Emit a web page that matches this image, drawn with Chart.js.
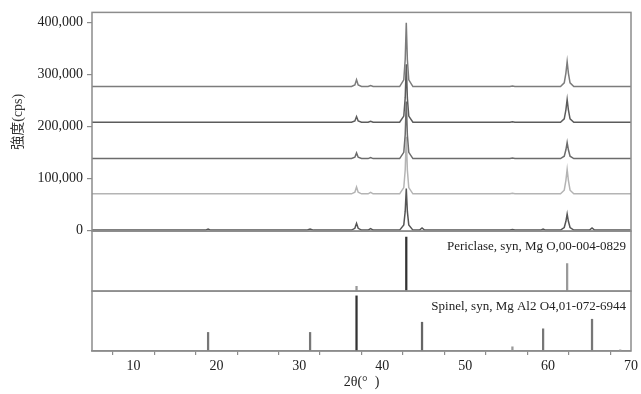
<!DOCTYPE html>
<html>
<head>
<meta charset="utf-8">
<script src="https://cdn.jsdelivr.net/npm/chart.js@4/dist/chart.umd.min.js"></script>
<style>
  body { margin: 0; background: #fff; }
</style>
</head>
<body>
<canvas id="xrd" width="641" height="394"></canvas>
<script>
// 2theta sampling points of the measured patterns
var twoTheta = [5, 18.7, 19.0, 19.3, 30.9, 31.3, 31.7, 36.3, 36.7, 36.9, 37.1, 37.5, 38.3, 38.6, 38.9,
  42.1, 42.6, 42.77, 42.9, 43.03, 43.2, 43.7, 44.5, 44.8, 45.1, 55.4, 55.7, 56.0, 59.1, 59.4, 59.7,
  61.5, 61.95, 62.15, 62.3, 62.45, 62.65, 63.1, 65.0, 65.3, 65.6, 70];

// intensities above each pattern's own baseline (cps), top pattern first
var patternA = [0, 0,0,0, 0,0,0, 0,3000,13000,3000,0, 0,2000,0, 0,13000,52000,123000,52000,13000,0, 0,0,0, 0,1000,0, 0,0,0, 0,7000,26000,48000,26000,7000,0, 0,0,0, 0];
var patternB = [0, 0,0,0, 0,0,0, 0,2500,11000,2500,0, 0,2000,0, 0,12000,47000,112000,47000,12000,0, 0,0,0, 0,1000,0, 0,0,0, 0,6500,24000,44000,24000,6500,0, 0,0,0, 0];
var patternC = [0, 0,0,0, 0,0,0, 0,2500,11000,2500,0, 0,2000,0, 0,12000,46000,110000,46000,12000,0, 0,0,0, 0,1000,0, 0,0,0, 0,4500,17000,31000,17000,4500,0, 0,0,0, 0];
var patternD = [0, 0,0,0, 0,0,0, 0,3000,13000,3000,0, 0,3000,0, 0,12000,46000,110000,46000,12000,0, 0,0,0, 0,1000,0, 0,0,0, 0,7000,26000,47000,26000,7000,0, 0,0,0, 0];
var patternE = [0, 0,2000,0, 0,2000,0, 0,3500,13000,3500,0, 0,3000,0, 0,10000,36000,80000,36000,10000,0, 0,4000,0, 0,1000,0, 0,2000,0, 0,5000,17000,31000,17000,5000,0, 0,4000,0, 0];
var patterns = [patternA, patternB, patternC, patternD, patternE];
var patternOffsets = [277000, 208000, 138000, 70000, 0];
var patternColors = ['#7c7c7c', '#5c5c5c', '#6c6c6c', '#b4b4b4', '#555555'];

// reference cards (relative intensity, %)
var periclaseLabel = 'Periclase, syn, Mg O,00-004-0829';
var periclasePos = [36.9, 42.9, 62.3];
var periclaseInt = [8, 90, 46];
var periclaseColors = ['#999', '#333', '#999'];

var spinelLabel = 'Spinel, syn, Mg Al2 O4,01-072-6944';
var spinelPos = [19.0, 31.3, 36.9, 44.8, 55.7, 59.4, 65.3, 68.7];
var spinelInt = [31, 31, 92, 48, 7, 37, 53, 2];
var spinelColors = ['#777', '#777', '#333', '#666', '#999', '#777', '#777', '#aaa'];

var yTicks = [0, 100000, 200000, 300000, 400000];
var xTicks = [5, 10, 15, 20, 25, 30, 35, 40, 45, 50, 55, 60, 65, 70];

var serif = '"Liberation Serif", "Noto Sans CJK JP", serif';
var frameColor = '#8c8c8c';

var datasets = [];
patterns.forEach(function (p, i) {
  datasets.push({
    type: 'line',
    yAxisID: 'y',
    data: p.map(function (v, j) { return {x: twoTheta[j], y: v + patternOffsets[i]}; }),
    borderColor: patternColors[i],
    borderWidth: 1.5,
    pointRadius: 0,
    tension: 0
  });
});
datasets.push({
  type: 'bar',
  yAxisID: 'y2',
  data: periclasePos.map(function (x, i) { return {x: x, y: periclaseInt[i]}; }),
  backgroundColor: periclaseColors,
  barThickness: 1.6,
  grouped: false
});
datasets.push({
  type: 'bar',
  yAxisID: 'y3',
  data: spinelPos.map(function (x, i) { return {x: x, y: spinelInt[i]}; }),
  backgroundColor: spinelColors,
  barThickness: 1.6,
  grouped: false
});

//Frames round each panel and the card names
var panelFrames = {
  id: 'panelFrames',
  afterDatasetsDraw: function (chart) {
    var ctx = chart.ctx, area = chart.chartArea;
    ctx.save();
    ctx.strokeStyle = frameColor;
    ctx.lineWidth = 1.5;
    ['y', 'y2', 'y3'].forEach(function (id) {
      var s = chart.scales[id];
      ctx.strokeRect(area.left, s.top, area.right - area.left, s.bottom - s.top);
    });
    ctx.fillStyle = '#222';
    ctx.font = '13px ' + serif;
    ctx.textAlign = 'right';
    ctx.textBaseline = 'middle';
    ctx.fillText(periclaseLabel, area.right - 5, chart.scales.y2.top + 15);
    ctx.fillText(spinelLabel, area.right - 5, chart.scales.y3.top + 16);
    ctx.restore();
  }
};

var chart = new Chart(document.getElementById('xrd'), {
  type: 'line',
  data: {datasets: datasets},
  plugins: [panelFrames],
  options: {
    responsive: false,
    devicePixelRatio: 1,
    animation: false,
    layout: {padding: {top: 12, right: 8, left: 0, bottom: 0}},
    plugins: {legend: {display: false}, tooltip: {enabled: false}},
    scales: {
      x: {
        type: 'linear',
        min: 5,
        max: 70,
        offset: false,
        afterBuildTicks: function (s) { s.ticks = xTicks.map(function (v) { return {value: v}; }); },
        afterFit: function (s) { s.height = 43; },
        ticks: {
          autoSkip: false,
          maxRotation: 0,
          padding: 3,
          color: '#222',
          font: {family: serif, size: 14},
          callback: function (v) { return v % 10 === 0 ? String(v) : ''; }
        },
        grid: {drawOnChartArea: false, drawTicks: true, tickLength: 4, color: frameColor, lineWidth: 1.2},
        border: {display: true, color: frameColor, width: 1.5},
        title: {display: true, text: '2θ(°  )', color: '#222', font: {family: serif, size: 14}, padding: {top: 2, bottom: 3}}
      },
      y3: {
        type: 'linear',
        position: 'left',
        stack: 'panels',
        stackWeight: 60,
        min: 0,
        max: 100,
        ticks: {display: false},
        grid: {display: false},
        border: {display: false}
      },
      y2: {
        type: 'linear',
        position: 'left',
        stack: 'panels',
        stackWeight: 60,
        min: 0,
        max: 100,
        ticks: {display: false},
        grid: {display: false},
        border: {display: false}
      },
      y: {
        type: 'linear',
        position: 'left',
        stack: 'panels',
        stackWeight: 219,
        min: -2000,
        max: 420000,
        afterBuildTicks: function (s) { s.ticks = yTicks.map(function (v) { return {value: v}; }); },
        afterFit: function (s) { s.width = 92; },
        ticks: {
          padding: 4,
          color: '#222',
          font: {family: serif, size: 14},
          callback: function (v) { return v.toLocaleString('en-US'); }
        },
        grid: {drawOnChartArea: false, drawTicks: true, tickLength: 5, color: frameColor, lineWidth: 1.2},
        border: {display: false},
        title: {display: true, text: '強度(cps)', color: '#333', font: {family: serif, size: 14}, padding: {top: 10, bottom: 2}}
      }
    }
  }
});
</script>
</body>
</html>
